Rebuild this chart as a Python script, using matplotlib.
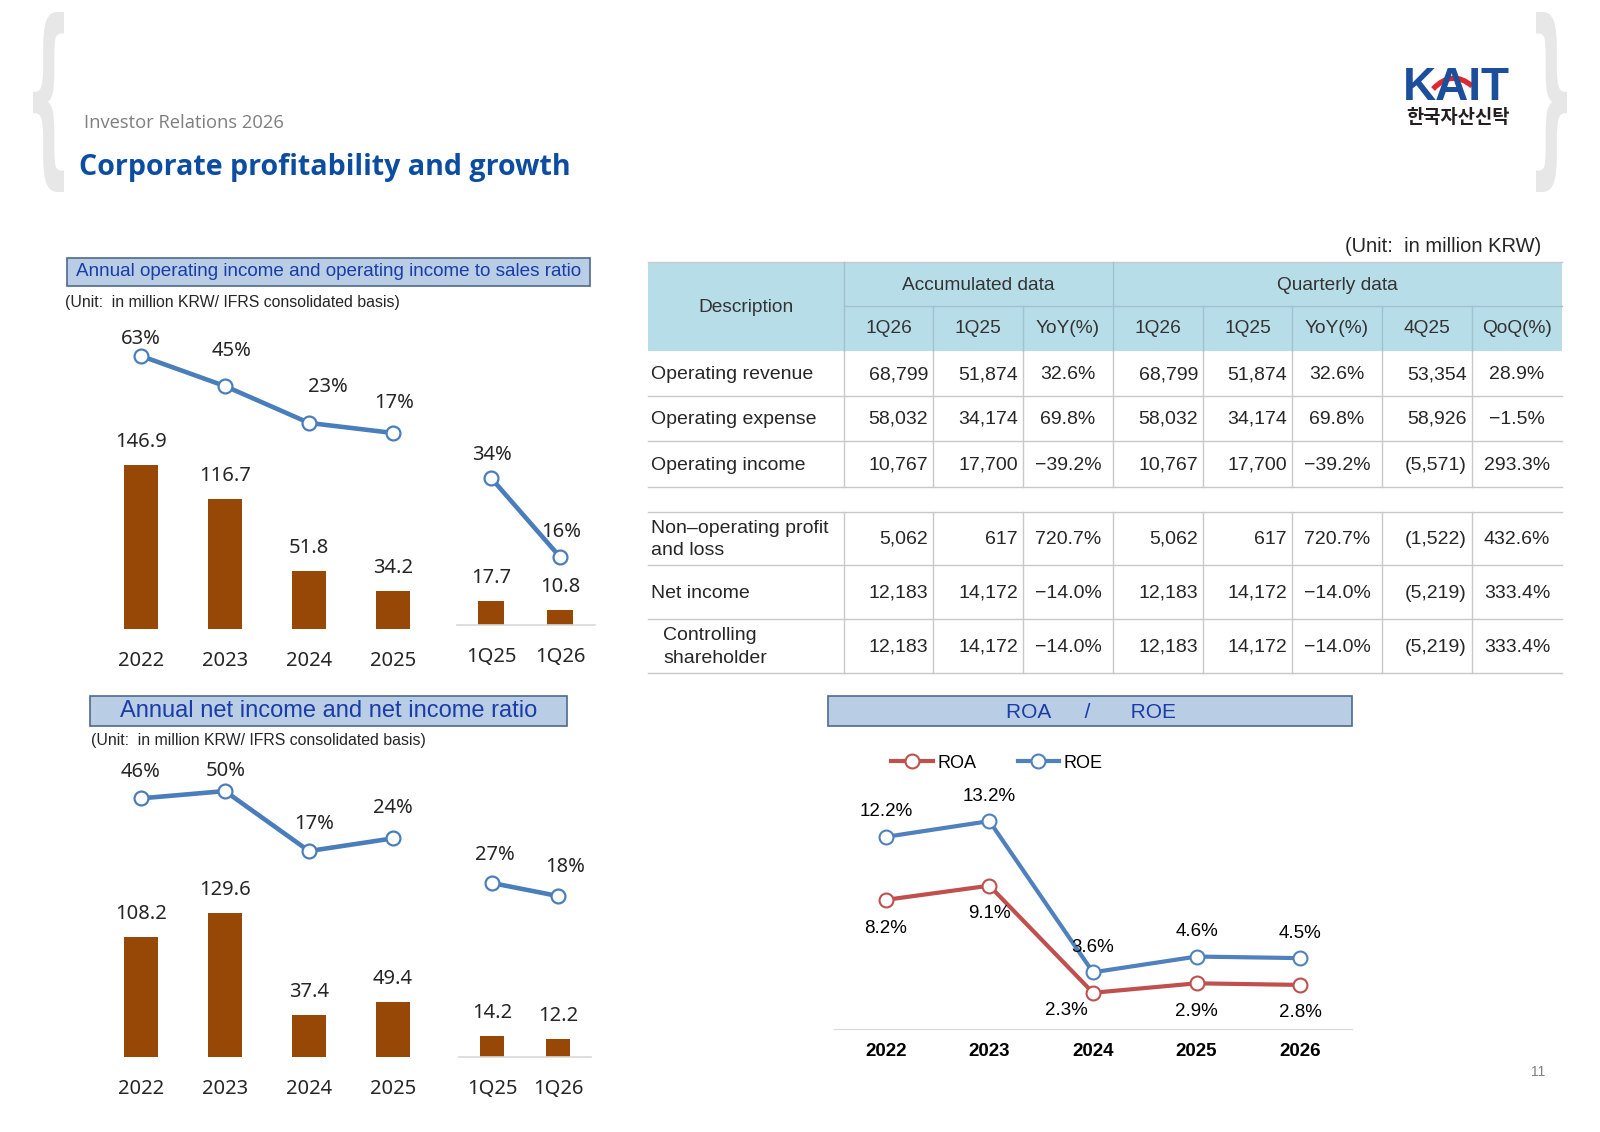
import numpy as np
import matplotlib
matplotlib.use('Agg')
import matplotlib.pyplot as plt
import matplotlib.font_manager as fm
from matplotlib.patches import Rectangle, PathPatch
from matplotlib.path import Path
from matplotlib.textpath import TextPath
from matplotlib.transforms import Affine2D

# ---- data ----
years = ['2022', '2023', '2024', '2025']
quarters = ['1Q25', '1Q26']
op_income = [146.9, 116.7, 51.8, 34.2]
op_income_q = [17.7, 10.8]
op_margin = [63, 45, 23, 17]
op_margin_q = [34, 16]
net_income = [108.2, 129.6, 37.4, 49.4]
net_income_q = [14.2, 12.2]
net_margin = [46, 50, 17, 24]
net_margin_q = [27, 18]

roa_years = ['2022', '2023', '2024', '2025', '2026']
roa = [8.2, 9.1, 2.3, 2.9, 2.8]
roe = [12.2, 13.2, 3.6, 4.6, 4.5]

row_labels = ['Operating revenue', 'Operating expense', 'Operating income',
              'Non\u2013operating profit\nand loss', 'Net income', 'Controlling\nshareholder']
acc_1q26 = ['68,799', '58,032', '10,767', '5,062', '12,183', '12,183']
acc_1q25 = ['51,874', '34,174', '17,700', '617', '14,172', '14,172']
acc_yoy = ['32.6%', '69.8%', '\u221239.2%', '720.7%', '\u221214.0%', '\u221214.0%']
q_1q26 = ['68,799', '58,032', '10,767', '5,062', '12,183', '12,183']
q_1q25 = ['51,874', '34,174', '17,700', '617', '14,172', '14,172']
q_yoy = ['32.6%', '69.8%', '\u221239.2%', '720.7%', '\u221214.0%', '\u221214.0%']
q_4q25 = ['53,354', '58,926', '(5,571)', '(1,522)', '(5,219)', '(5,219)']
qoq = ['28.9%', '\u22121.5%', '293.3%', '432.6%', '333.4%', '333.4%']
sub_heads = ['1Q26', '1Q25', 'YoY(%)', '1Q26', '1Q25', 'YoY(%)', '4Q25', 'QoQ(%)']

# ---- styles ----
BROWN = '#974706'
BLUE = '#4A7EBB'
RED = '#C0504D'
ROE_BLUE = '#4F81BD'
TXT = '#262626'
NUM = dict(family=['Noto Sans', 'DejaVu Sans'], fontsize=14.5, color=TXT)
ARL = ['Liberation Sans', 'DejaVu Sans']

W, H = 1600, 1132
fig = plt.figure(figsize=(16, 11.32), dpi=100)
bg = fig.add_axes([0, 0, 1, 1])
bg.set_xlim(0, W)
bg.set_ylim(H, 0)
bg.axis('off')


def px_axes(x0, y0, x1, y1):
    ax = fig.add_axes([x0 / W, 1 - y1 / H, (x1 - x0) / W, (y1 - y0) / H])
    ax.patch.set_visible(False)
    return ax


def brace(ch, x0, x1, y0, y1):
    tp = TextPath((0, 0), ch, size=100, prop=fm.FontProperties(family='DejaVu Sans', weight='bold'))
    e = tp.get_extents()
    tr = Affine2D().translate(-e.x0, -e.y1).scale((x1 - x0) / e.width, -(y1 - y0) / e.height).translate(x0, y0)
    bg.add_patch(PathPatch(tr.transform_path(tp), fc='#E7E7E7', ec='none'))


# header decorations
brace('{', 33, 64, 12, 192)
brace('}', 1536, 1567, 12, 192)
bg.text(84, 123, 'Investor Relations 2026', family='Open Sans', fontsize=13.2, color='#7F7F7F', va='center')
bg.text(79, 168, 'Corporate profitability and growth', family='Open Sans', fontsize=20.6,
        fontweight='bold', color='#0C4DA2', va='center')

# logo
bg.text(1403, 100, 'KAIT', family=ARL, fontsize=33, fontweight='bold', color='#1B4F9C', va='baseline')
swoosh = Path([(1433, 89), (1452, 69), (1472, 86)], [Path.MOVETO, Path.CURVE3, Path.CURVE3])
bg.add_patch(PathPatch(swoosh, fc='none', ec='white', lw=6.5))
bg.add_patch(PathPatch(swoosh, fc='none', ec='#E1262C', lw=3.8))
bg.text(1458, 123, '\ud55c\uad6d\uc790\uc0b0\uc2e0\ud0c1', family=['Noto Sans CJK KR'], fontsize=13.5,
        fontweight='bold', color='#231F20', ha='center', va='baseline')
bg.text(1538, 1072, '11', family=ARL, fontsize=10, color='#808080', ha='center', va='center')

# ---- section title boxes ----
bg.add_patch(Rectangle((67, 258), 523, 28, fc='#B9CDE5', ec='#4F6A8E', lw=1.2))
bg.text(328.5, 272, 'Annual operating income and operating income to sales ratio', family=ARL,
        fontsize=13.6, color='#1A3CA8', ha='center', va='center')
bg.text(65, 303, '(Unit:  in million KRW/ IFRS consolidated basis)', family=ARL, fontsize=11.4,
        color=TXT, va='center')

bg.add_patch(Rectangle((90, 696), 477, 29.5, fc='#B9CDE5', ec='#4F6A8E', lw=1.2))
bg.text(328.5, 711, 'Annual net income and net income ratio', family=ARL, fontsize=17,
        color='#1A3CA8', ha='center', va='center')
bg.text(91, 741, '(Unit:  in million KRW/ IFRS consolidated basis)', family=ARL, fontsize=11.4,
        color=TXT, va='center')

bg.add_patch(Rectangle((828, 696), 524, 30, fc='#B9CDE5', ec='#4F6A8E', lw=1.2))
bg.text(1006, 712, 'ROA      /       ROE', family=ARL, fontsize=15, color='#1A3CA8', va='center')


# ---- combo charts (bars + margin line) ----
def combo(rect, cats, bars, bar_top, bar_w, line, line_lim, line_offs, baseline=False):
    ax = px_axes(*rect)
    xs = np.arange(len(cats))
    ax.bar(xs, bars, width=bar_w, color=BROWN)
    ax.set_xlim(-0.5, len(cats) - 0.5)
    ax.set_ylim(0, bar_top)
    ax.axis('off')
    if baseline:
        ax.axhline(0, color='#D9D9D9', lw=1.2, clip_on=False)
    for x, v in zip(xs, bars):
        ax.annotate(f'{v:.1f}', (x, v), xytext=(0, 23), textcoords='offset pixels',
                    ha='center', va='center', **NUM)
    for x, c in zip(xs, cats):
        ax.annotate(c, (x, 0), xytext=(0, -37), textcoords='offset pixels',
                    ha='center', va='baseline', annotation_clip=False, **NUM)
    ax2 = ax.twinx()
    ax2.patch.set_visible(False)
    ax2.plot(xs, line, color=BLUE, lw=3.3, marker='o', ms=10, mfc='white', mec=BLUE, mew=1.6,
             solid_capstyle='round')
    ax2.set_ylim(*line_lim)
    ax2.axis('off')
    for x, v, (dx, dy) in zip(xs, line, line_offs):
        ax2.annotate(f'{v}%', (x, v), xytext=(dx, dy - 2), textcoords='offset pixels',
                     ha='center', va='center', **NUM)


combo((99, 330, 435, 629), years, op_income, 267.8, 0.405, op_margin, (-100.1, 78.5),
      [(0, 19), (7, 37), (19, 38), (1, 32)])
combo((456.5, 330, 594.5, 625), quarters, op_income_q, 217, 0.377, op_margin_q, (0.5, 67.7),
      [(1, 25), (1, 27)], baseline=True)
combo((99, 760, 435, 1057), years, net_income, 267.6, 0.405, net_margin, (-96.3, 67.1),
      [(0, 28), (1, 22), (5, 29), (0, 32)])
combo((459, 760, 591, 1057), quarters, net_income_q, 200.7, 0.364, net_margin_q, (-93.5, 112.2),
      [(3, 30), (7, 31)], baseline=True)

# ---- ROA / ROE chart ----
ax = px_axes(834, 780, 1352, 1029)
xs = np.arange(len(roa_years))
for vals, col, name in ((roa, RED, 'ROA'), (roe, ROE_BLUE, 'ROE')):
    ax.plot(xs, vals, color=col, lw=3, marker='o', ms=10, mfc='white', mec=col, mew=1.5, label=name)
ax.set_xlim(-0.5, len(roa_years) - 0.5)
ax.set_ylim(0, 15.81)
for s in ('top', 'right', 'left'):
    ax.spines[s].set_visible(False)
ax.spines['bottom'].set_color('#D9D9D9')
ax.set_xticks([])
ax.set_yticks([])
LAB = dict(family=ARL, fontsize=13.5, color='black', ha='center', va='center')
for x, v in zip(xs, roe):
    ax.annotate(f'{v}%', (x, v), xytext=(0, 25), textcoords='offset pixels', **LAB)
roa_offs = [(0, -29), (0, -28), (-27, -18), (0, -28), (0, -28)]
for x, v, (dx, dy) in zip(xs, roa, roa_offs):
    ax.annotate(f'{v}%', (x, v), xytext=(dx, dy), textcoords='offset pixels', **LAB)
for x, c in zip(xs, roa_years):
    ax.annotate(c, (x, 0), xytext=(0, -22), textcoords='offset pixels', fontweight='bold',
                annotation_clip=False, **LAB)
h, l = ax.get_legend_handles_labels()
fig.legend(h, l, loc='center left', bbox_to_anchor=(891 / W, 1 - 763 / H), ncol=2, frameon=False,
           handlelength=2.3, handletextpad=0.25, columnspacing=2.3, borderpad=0, borderaxespad=0,
           prop=fm.FontProperties(family='Liberation Sans', size=13))

# ---- table ----
cols = [648, 844, 933, 1023, 1113, 1203, 1292, 1382, 1472, 1562]
top, mid, hbot = 262, 306, 351
groups = [[351, 396, 441, 487], [512, 565, 619, 673]]
LINE = '#C8C8C8'
HLINE = '#9FC3D1'

bg.text(1541, 247, '(Unit:  in million KRW)', family=ARL, fontsize=14.5, color=TXT, ha='right', va='center')
bg.add_patch(Rectangle((cols[0], top), cols[-1] - cols[0], hbot - top, fc='#B7DDE8', ec='none'))
bg.plot([cols[0], cols[-1]], [top, top], color=LINE, lw=1)
bg.plot([cols[1], cols[-1]], [mid, mid], color=HLINE, lw=1)
for x in cols[1:-1]:
    y0 = top if x in (cols[1], cols[4]) else mid
    bg.plot([x, x], [y0, hbot], color=HLINE, lw=1)

HD = dict(family=ARL, fontsize=13.8, color='#333333', ha='center', va='center')
bg.text((cols[0] + cols[1]) / 2, (top + hbot) / 2 + 1, 'Description', **HD)
bg.text((cols[1] + cols[4]) / 2, (top + mid) / 2 + 1, 'Accumulated data', **HD)
bg.text((cols[4] + cols[-1]) / 2, (top + mid) / 2 + 1, 'Quarterly data', **HD)
for i, s in enumerate(sub_heads):
    bg.text((cols[i + 1] + cols[i + 2]) / 2, (mid + hbot) / 2, s, **HD)

for g in groups:
    for y in g[1:]:
        bg.plot([cols[0], cols[-1]], [y, y], color=LINE, lw=1)
    if g[0] != hbot:
        bg.plot([cols[0], cols[-1]], [g[0], g[0]], color=LINE, lw=1)
    for x in cols[1:-1]:
        bg.plot([x, x], [g[0], g[-1]], color=LINE, lw=1)

row_y = [(g[k] + g[k + 1]) / 2 + 1 for g in groups for k in range(3)]
columns = [acc_1q26, acc_1q25, acc_yoy, q_1q26, q_1q25, q_yoy, q_4q25, qoq]
align = ['r', 'r', 'c', 'r', 'r', 'c', 'r', 'c']
CELL = dict(family=ARL, fontsize=14, color=TXT, va='center')
for r, y in enumerate(row_y):
    indent = 663 if row_labels[r].startswith('Controlling') else 651
    bg.text(indent, y, row_labels[r], ha='left', linespacing=1.45, **CELL)
    for c, vals in enumerate(columns):
        if align[c] == 'r':
            bg.text(cols[c + 2] - 5, y, vals[r], ha='right', **CELL)
        else:
            bg.text((cols[c + 1] + cols[c + 2]) / 2, y, vals[r], ha='center', **CELL)

fig.savefig('out.png', dpi=100)
